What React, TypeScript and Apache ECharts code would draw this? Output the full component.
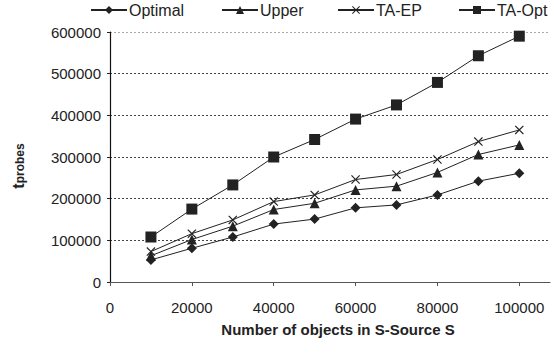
import React, { useEffect, useRef } from "react";
import * as echarts from "echarts";

const xValues = [10000, 20000, 30000, 40000, 50000, 60000, 70000, 80000, 90000, 100000];
const optimal = [53000, 81000, 108000, 139000, 151000, 178000, 185000, 209000, 242000, 261000];
const upper = [63000, 102000, 134000, 174000, 189000, 221000, 230000, 263000, 306000, 329000];
const taEP = [73000, 116000, 149000, 193000, 209000, 246000, 258000, 294000, 337000, 365000];
const taOpt = [108000, 175000, 233000, 300000, 342000, 391000, 425000, 479000, 543000, 590000];
const xTicks = [0, 20000, 40000, 60000, 80000, 100000];
const seriesNames = ["Optimal", "Upper", "TA-EP", "TA-Opt"];

const crossPath =
  "path://M0,0.9L0.9,0L5,4.1L9.1,0L10,0.9L5.9,5L10,9.1L9.1,10L5,5.9L0.9,10L0,9.1L4.1,5Z";

export default function App() {
  const ref = useRef<HTMLDivElement>(null);
  useEffect(() => {
    if (!ref.current) return;
    const chart = echarts.init(ref.current, null, { renderer: "svg" });
    const dark = "#222";
    const font = "Liberation Sans, Arial, sans-serif";
    const mk = (name: string, data: number[], symbol: string, size: number) => ({
      name,
      type: "line",
      data: xValues.map((x, i) => [x, data[i]]),
      symbol,
      symbolSize: size,
      showAllSymbol: true,
      lineStyle: { color: dark, width: 1 },
      itemStyle: { color: dark, borderWidth: 0 },
      z: 3,
    });
    const legendPos = [90, 221, 337, 458];
    chart.setOption({
      animation: false,
      backgroundColor: "#fff",
      textStyle: { fontFamily: font },
      legend: seriesNames.map((n, i) => ({
        data: [n],
        left: legendPos[i],
        top: 2,
        itemWidth: 36,
        itemHeight: 10,
        itemGap: 0,
        padding: 0,
        textStyle: { fontSize: 16, color: "#222", fontFamily: font, padding: [0, 0, 0, -3] },
      })),
      grid: { left: 110, top: 32, right: 5, bottom: 80 },
      xAxis: {
        type: "value",
        min: 0,
        max: 107500,
        interval: 20000,
        axisLine: { lineStyle: { color: "#555", width: 1.2 } },
        axisTick: { show: true, length: 4, lineStyle: { color: "#555" }, customValues: xTicks },
        axisLabel: {
          fontSize: 15,
          color: "#222",
          margin: 18,
          customValues: xTicks,
          fontFamily: font,
          formatter: (v: number) => String(v),
        },
        splitLine: { show: false },
      },
      yAxis: {
        type: "value",
        min: 0,
        max: 600000,
        interval: 100000,
        axisLine: { show: true, lineStyle: { color: "#111", width: 1.2 } },
        axisTick: { show: true, length: 3, lineStyle: { color: "#222" } },
        axisLabel: {
          fontSize: 15,
          color: "#222",
          margin: 9,
          fontFamily: font,
          formatter: (v: number) => String(v),
        },
        splitLine: { show: true, lineStyle: { color: ["#999", "#444", "#444", "#444", "#444", "#444", "#aaa"], type: [2, 2], width: 1 } },
      },
      graphic: [
        {
          type: "text",
          x: 338,
          y: 329,
          style: {
            text: "Number of objects in S-Source S",
            font: "bold 15px Liberation Sans, Arial, sans-serif",
            fill: "#222",
            align: "center",
            verticalAlign: "middle",
          },
        },
        {
          type: "text",
          x: 18,
          y: 166,
          rotation: Math.PI / 2,
          style: {
            text: "{t|t}{s|probes}",
            align: "center",
            verticalAlign: "middle",
            fill: "#222",
            rich: {
              t: { fontSize: 16, fontWeight: "bold", fontFamily: font, lineHeight: 16, verticalAlign: "top", fill: "#222" },
              s: { fontSize: 12, fontWeight: "bold", fontFamily: font, lineHeight: 12, padding: [6, 0, 0, 0], verticalAlign: "bottom", fill: "#222" },
            },
          },
        },
      ],
      series: [
        mk("Optimal", optimal, "diamond", 10),
        mk("Upper", upper, "triangle", 10),
        mk("TA-EP", taEP, crossPath, 9),
        mk("TA-Opt", taOpt, "rect", 11),
      ],
    });
    return () => chart.dispose();
  }, []);
  return (
    <div
      ref={ref}
      style={{ position: "fixed", left: 0, top: 0, width: 555, height: 362, background: "#fff" }}
    />
  );
}
